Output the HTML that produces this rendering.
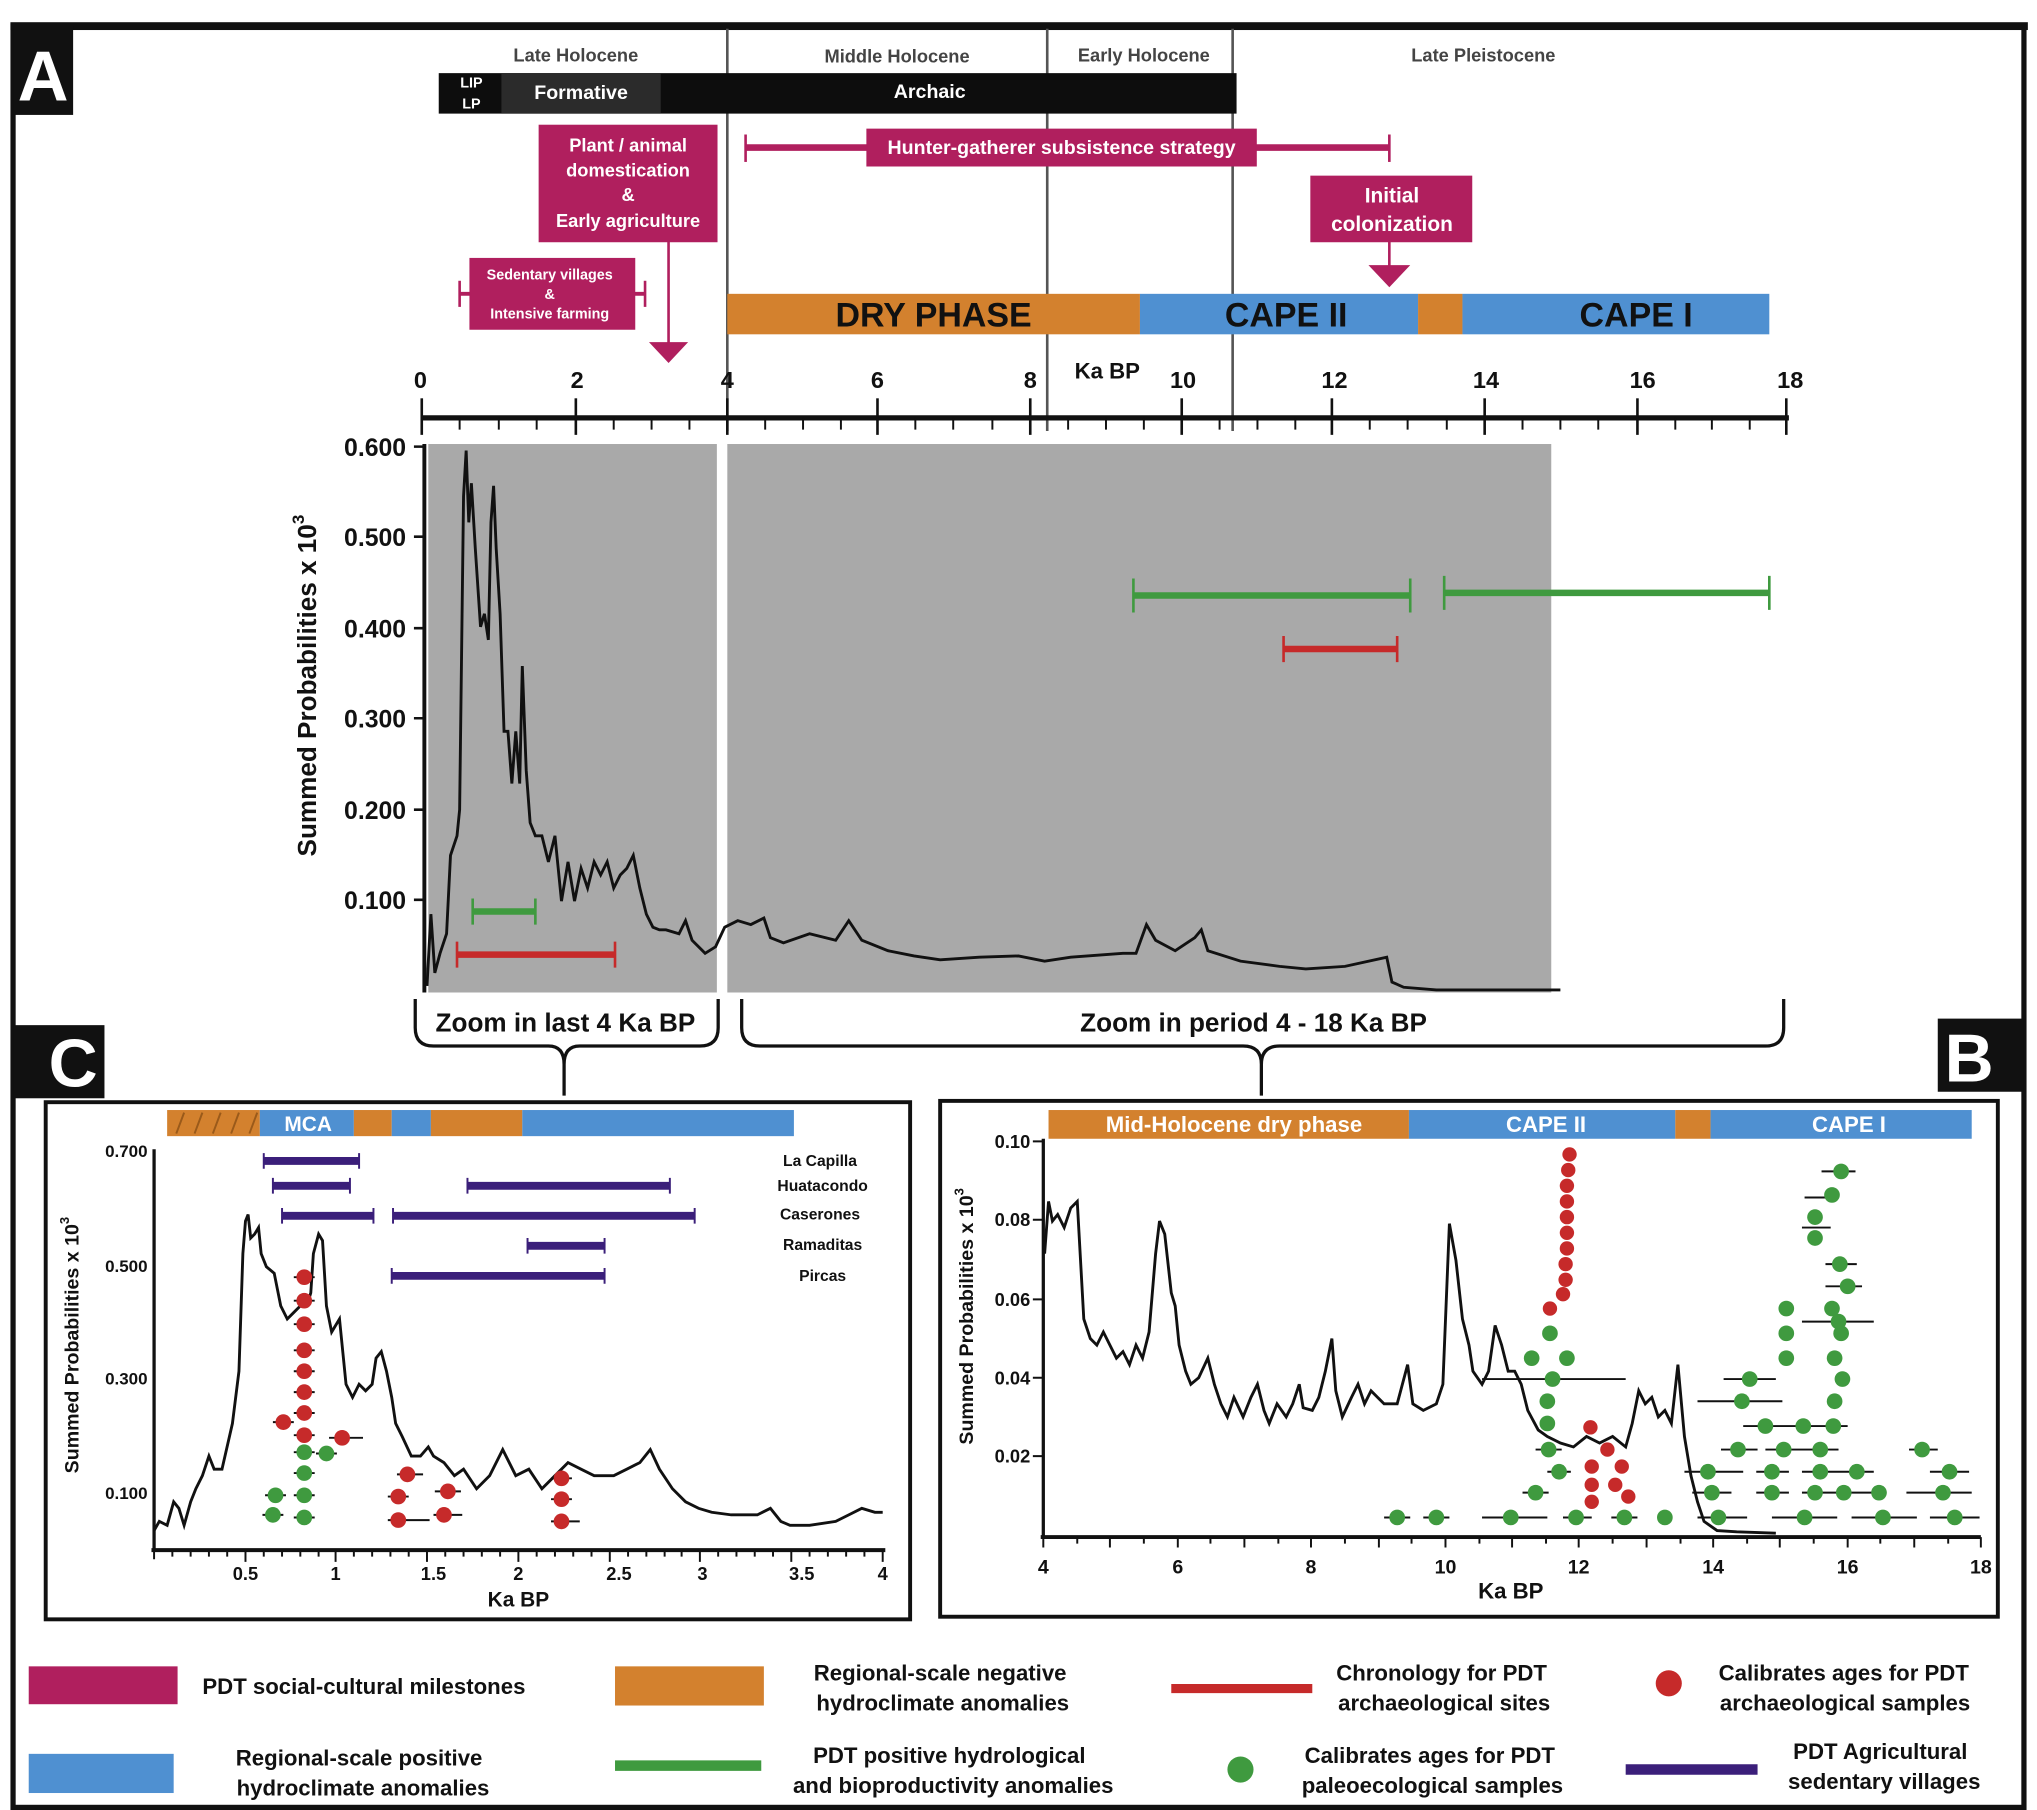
<!DOCTYPE html>
<html><head><meta charset="utf-8"><style>
html,body{margin:0;padding:0;background:#fff}
svg{display:block}
text{font-family:"Liberation Sans",Arial,sans-serif;font-weight:bold}
</style></head><body>
<svg width="2037" height="1810" viewBox="0 0 1560 1386" preserveAspectRatio="none" xmlns="http://www.w3.org/2000/svg">
<rect width="1560" height="1386" fill="#fff"/>
<!-- outer frame -->
<rect x="10" y="20" width="1540" height="1364" fill="none" stroke="#111" stroke-width="4"/>
<rect x="8" y="17" width="1545" height="6" fill="#111"/>
<rect x="10" y="20" width="46" height="68" fill="#111"/>
<text x="33" y="77" font-size="54" fill="#fff" text-anchor="middle">A</text>

<!-- period lines -->
<g stroke="#555" stroke-width="2"><line x1="557" y1="22" x2="557" y2="330"/><line x1="802" y1="22" x2="802" y2="330"/><line x1="944" y1="22" x2="944" y2="330"/></g>
<g font-size="14" fill="#444" font-weight="normal" text-anchor="middle">
<text x="441" y="47" font-weight="normal">Late Holocene</text><text x="687" y="48" font-weight="normal">Middle Holocene</text><text x="876" y="47" font-weight="normal">Early Holocene</text><text x="1136" y="47" font-weight="normal">Late Pleistocene</text></g>
<rect x="336" y="56" width="611" height="31" fill="#0d0d0d"/>
<rect x="384" y="56" width="122" height="31" fill="#2b2b2b"/>
<text x="361" y="67" font-size="11" fill="#fff" text-anchor="middle" font-weight="normal">LIP</text>
<text x="361" y="83" font-size="11" fill="#fff" text-anchor="middle" font-weight="normal">LP</text>
<text x="445" y="76" font-size="15" fill="#fff" text-anchor="middle" font-weight="normal">Formative</text>
<text x="712" y="75" font-size="15" fill="#fff" text-anchor="middle" font-weight="normal">Archaic</text>

<!-- magenta -->
<g fill="#b01f5e" stroke="#b01f5e">
<rect x="413" y="96" width="136" height="89"/>
<line x1="512" y1="185" x2="512" y2="265" stroke-width="2"/>
<polygon points="497,262 527,262 512,278" stroke="none"/>
<line x1="571" y1="113" x2="1064" y2="113" stroke-width="5"/>
<line x1="571" y1="103" x2="571" y2="124" stroke-width="2"/><line x1="1064" y1="103" x2="1064" y2="124" stroke-width="2"/>
<rect x="664" y="99" width="298" height="28"/>
<rect x="1004" y="135" width="123" height="50"/>
<line x1="1064" y1="185" x2="1064" y2="206" stroke-width="2"/>
<polygon points="1048,203 1080,203 1064,220" stroke="none"/>
<line x1="352" y1="225" x2="494" y2="225" stroke-width="3"/>
<line x1="352" y1="215" x2="352" y2="235" stroke-width="2"/><line x1="494" y1="215" x2="494" y2="235" stroke-width="2"/>
<rect x="360" y="198" width="126" height="54"/>
</g>
<g fill="#fff" text-anchor="middle">
<text x="481" y="116" font-size="14">Plant / animal</text>
<text x="481" y="135" font-size="14">domestication</text>
<text x="481" y="154" font-size="14">&amp;</text>
<text x="481" y="174" font-size="14">Early agriculture</text>
<text x="813" y="118" font-size="15">Hunter-gatherer subsistence strategy</text>
<text x="1066" y="155" font-size="16">Initial</text>
<text x="1066" y="177" font-size="16">colonization</text>
<text x="421" y="214" font-size="11">Sedentary villages</text>
<text x="421" y="229" font-size="11">&amp;</text>
<text x="421" y="244" font-size="11">Intensive farming</text>
</g>

<!-- color bar A -->
<rect x="557" y="225" width="316" height="31" fill="#d3812e"/>
<rect x="873" y="225" width="213" height="31" fill="#4f90d1"/>
<rect x="1086" y="225" width="34" height="31" fill="#d3812e"/>
<rect x="1120" y="225" width="235" height="31" fill="#4f90d1"/>
<g font-size="26" fill="#111" text-anchor="middle"><text x="715" y="250">DRY PHASE</text><text x="985" y="250">CAPE II</text><text x="1253" y="250">CAPE I</text></g>

<!-- top axis -->
<g font-size="18" fill="#111" text-anchor="middle">
<text x="322" y="297">0</text><text x="442" y="297">2</text><text x="557" y="297">4</text><text x="672" y="297">6</text><text x="789" y="297">8</text><text x="906" y="297">10</text><text x="1022" y="297">12</text><text x="1138" y="297">14</text><text x="1258" y="297">16</text><text x="1371" y="297">18</text>
<text x="848" y="290" font-size="17">Ka BP</text></g>
<line x1="323" y1="320" x2="1370" y2="320" stroke="#111" stroke-width="4"/>
<g stroke="#111" stroke-width="2">
<line x1="323" y1="305" x2="323" y2="333"/><line x1="441" y1="305" x2="441" y2="333"/><line x1="557" y1="305" x2="557" y2="333"/><line x1="672" y1="305" x2="672" y2="333"/><line x1="789" y1="305" x2="789" y2="333"/><line x1="905" y1="305" x2="905" y2="333"/><line x1="1020" y1="305" x2="1020" y2="333"/><line x1="1137" y1="305" x2="1137" y2="333"/><line x1="1254" y1="305" x2="1254" y2="333"/><line x1="1368" y1="305" x2="1368" y2="333"/>
</g>
<g stroke="#111" stroke-width="1.5">
<path d="M352 320v9M382 320v9M411 320v9M470 320v9M499 320v9M528 320v9M586 320v9M615 320v9M644 320v9M701 320v9M730 320v9M760 320v9M818 320v9M847 320v9M876 320v9M934 320v9M963 320v9M992 320v9M1049 320v9M1078 320v9M1108 320v9M1166 320v9M1195 320v9M1224 320v9M1283 320v9M1311 320v9M1340 320v9"/>
</g>

<!-- plot A -->
<rect x="328" y="340" width="221" height="420" fill="#a9a9a9"/>
<rect x="557" y="340" width="631" height="420" fill="#a9a9a9"/>
<line x1="325" y1="340" x2="325" y2="760" stroke="#111" stroke-width="3"/>
<g stroke="#111" stroke-width="2"><path d="M317 342h8M317 411h8M317 481h8M317 550h8M317 620h8M317 689h8"/></g>
<g font-size="19" fill="#111" text-anchor="end"><text x="311" y="349">0.600</text><text x="311" y="418">0.500</text><text x="311" y="488">0.400</text><text x="311" y="557">0.300</text><text x="311" y="627">0.200</text><text x="311" y="696">0.100</text></g>
<text transform="translate(242,525) rotate(-90)" font-size="20" fill="#111" text-anchor="middle">Summed Probabilities x 10<tspan font-size="13" dy="-9">3</tspan></text>
<polyline fill="none" stroke="#111" stroke-width="2.2" points="327,755 330,700 333,745 337,730 342,715 345,655 350,640 352,620 355,380 357,345 359,400 361,370 364,420 368,480 371,470 374,490 376,400 378,372 380,420 383,470 386,560 389,560 392,600 395,560 398,600 400,510 403,590 406,630 410,640 415,640 420,660 425,640 430,690 435,660 440,690 445,665 450,680 455,660 460,670 465,660 470,680 475,670 480,665 485,655 490,680 495,700 500,710 505,712 510,712 520,715 525,705 530,720 540,730 548,725 555,710 565,705 575,708 585,703 590,718 600,722 620,715 640,720 650,705 660,720 680,728 700,732 720,735 750,733 780,732 800,736 820,733 860,730 870,730 878,708 885,720 900,728 915,718 920,712 925,728 950,736 980,740 1000,742 1030,740 1062,733 1066,752 1075,756 1100,758 1195,758"/>
<g stroke-width="5"><line x1="868" y1="456" x2="1080" y2="456" stroke="#3f9a3f"/><line x1="1106" y1="454" x2="1355" y2="454" stroke="#3f9a3f"/><line x1="983" y1="497" x2="1070" y2="497" stroke="#c62a2a"/><line x1="362" y1="698" x2="410" y2="698" stroke="#3f9a3f"/><line x1="350" y1="731" x2="471" y2="731" stroke="#c62a2a"/></g>
<g stroke-width="2"><path d="M868 443v26M1080 443v26M1106 441v26M1355 441v26M362 688v20M410 688v20" stroke="#3f9a3f"/><path d="M983 487v20M1070 487v20M350 721v20M471 721v20" stroke="#c62a2a"/></g>

<!-- braces -->
<g fill="none" stroke="#111" stroke-width="2.5">
<path d="M318 765 v22 q0 14 14 14 h88 q12 0 12 14 v24 M432 815 q0-14 12-14 h92 q14 0 14-14 v-22"/>
<path d="M568 765 v22 q0 14 14 14 h370 q14 0 14 14 v24 M966 815 q0-14 14-14 h372 q14 0 14-14 v-22"/>
</g>
<text x="433" y="790" font-size="20" fill="#111" text-anchor="middle" font-weight="normal">Zoom in last 4 Ka BP</text>
<text x="960" y="790" font-size="20" fill="#111" text-anchor="middle" font-weight="normal">Zoom in period 4 - 18 Ka BP</text>
<rect x="10" y="785" width="70" height="56" fill="#111"/>
<text x="56" y="832" font-size="52" fill="#fff" text-anchor="middle">C</text>
<rect x="1484" y="780" width="66" height="56" fill="#111"/>
<text x="1508" y="828" font-size="52" fill="#fff" text-anchor="middle">B</text>

<!-- Panel C -->
<rect x="35" y="844" width="662" height="396" fill="#fff" stroke="#111" stroke-width="3"/>
<rect x="128" y="850" width="71" height="20" fill="#d3812e"/>
<g stroke="#9a5a1a" stroke-width="1.5"><path d="M135 868l6-16M149 868l6-16M163 868l6-16M177 868l6-16M191 868l6-16"/></g>
<rect x="199" y="850" width="72" height="20" fill="#4f90d1"/>
<rect x="271" y="850" width="29" height="20" fill="#d3812e"/>
<rect x="300" y="850" width="30" height="20" fill="#4f90d1"/>
<rect x="330" y="850" width="70" height="20" fill="#d3812e"/>
<rect x="400" y="850" width="208" height="20" fill="#4f90d1"/>
<text x="236" y="866" font-size="16" fill="#fff" text-anchor="middle">MCA</text>
<line x1="118" y1="880" x2="118" y2="1187" stroke="#111" stroke-width="2.5"/>
<line x1="116" y1="1187" x2="678" y2="1187" stroke="#111" stroke-width="3"/>
<g stroke="#111" stroke-width="1.5"><path d="M118 1187v7M188 1187v9M257 1187v9M327 1187v9M397 1187v9M467 1187v9M536 1187v9M606 1187v9M676 1187v9M132 1187v5M146 1187v5M160 1187v5M174 1187v5M202 1187v5M216 1187v5M230 1187v5M244 1187v5M271 1187v5M285 1187v5M299 1187v5M313 1187v5M341 1187v5M355 1187v5M369 1187v5M383 1187v5M411 1187v5M425 1187v5M439 1187v5M453 1187v5M481 1187v5M495 1187v5M509 1187v5M522 1187v5M550 1187v5M564 1187v5M578 1187v5M592 1187v5M620 1187v5M634 1187v5M648 1187v5M662 1187v5"/></g>
<g font-size="14" fill="#111" text-anchor="middle"><text x="188" y="1210">0.5</text><text x="257" y="1210">1</text><text x="332" y="1210">1.5</text><text x="397" y="1210">2</text><text x="474" y="1210">2.5</text><text x="538" y="1210">3</text><text x="614" y="1210">3.5</text><text x="676" y="1210">4</text><text x="397" y="1230" font-size="16">Ka BP</text></g>
<g font-size="13" fill="#111" text-anchor="end"><text x="113" y="886">0.700</text><text x="113" y="974">0.500</text><text x="113" y="1060">0.300</text><text x="113" y="1148">0.100</text></g>
<text transform="translate(60,1030) rotate(-90)" font-size="15" fill="#111" text-anchor="middle">Summed Probabilities x 10<tspan font-size="10" dy="-7">3</tspan></text>
<g stroke="#3b1f7a" stroke-width="6"><path d="M202 889h73M209 908h59M358 908h155M216 931h70M301 931h231M404 954h59M300 977h163"/></g>
<g stroke="#3b1f7a" stroke-width="1.5"><path d="M202 883v12M275 883v12M209 902v12M268 902v12M358 902v12M513 902v12M216 925v12M286 925v12M301 925v12M532 925v12M404 948v12M463 948v12M300 971v12M463 971v12"/></g>
<g font-size="12" fill="#111" text-anchor="middle"><text x="628" y="893">La Capilla</text><text x="630" y="912">Huatacondo</text><text x="628" y="934">Caserones</text><text x="630" y="957">Ramaditas</text><text x="630" y="981">Pircas</text></g>
<polyline fill="none" stroke="#111" stroke-width="2.2" points="118,1172 122,1165 128,1168 133,1150 137,1155 141,1168 146,1150 150,1140 155,1130 160,1115 164,1125 170,1125 178,1090 183,1050 186,960 188,935 190,930 192,948 195,945 198,940 200,960 204,970 210,975 215,1000 220,1010 225,1005 230,1000 235,1000 238,990 240,960 244,945 247,950 250,1000 254,1020 257,1015 260,1010 263,1040 265,1060 270,1070 275,1060 280,1065 285,1060 288,1040 292,1035 296,1050 300,1070 303,1090 308,1100 315,1115 322,1115 328,1108 332,1115 340,1120 348,1130 355,1125 365,1140 375,1130 385,1110 395,1130 405,1125 415,1140 425,1130 435,1120 445,1125 455,1130 470,1130 480,1125 490,1120 498,1110 505,1125 515,1140 525,1150 535,1155 545,1158 560,1160 580,1160 590,1155 598,1165 605,1168 620,1168 640,1165 650,1160 660,1155 670,1158 676,1158"/>
<g stroke="#111" stroke-width="1.5"><path d="M225 978h16M225 996h16M225 1014h16M225 1034h16M225 1050h16M225 1066h16M225 1082h16M225 1099h16M209 1089h16M252 1101h26M225 1112h16M242 1113h16M225 1128h16M225 1145h16M203 1145h16M201 1160h16M225 1162h16M304 1129h20M297 1146h16M333 1142h20M297 1164h32M332 1160h22M422 1132h16M422 1148h16M422 1165h22"/></g>
<g fill="#c62a2a"><circle cx="233" cy="978" r="6"/><circle cx="233" cy="996" r="6"/><circle cx="233" cy="1014" r="6"/><circle cx="233" cy="1034" r="6"/><circle cx="233" cy="1050" r="6"/><circle cx="233" cy="1066" r="6"/><circle cx="233" cy="1082" r="6"/><circle cx="233" cy="1099" r="6"/><circle cx="217" cy="1089" r="6"/><circle cx="262" cy="1101" r="6"/><circle cx="312" cy="1129" r="6"/><circle cx="305" cy="1146" r="6"/><circle cx="343" cy="1142" r="6"/><circle cx="305" cy="1164" r="6"/><circle cx="340" cy="1160" r="6"/><circle cx="430" cy="1132" r="6"/><circle cx="430" cy="1148" r="6"/><circle cx="430" cy="1165" r="6"/></g>
<g fill="#3f9a3f"><circle cx="233" cy="1112" r="6"/><circle cx="250" cy="1113" r="6"/><circle cx="233" cy="1128" r="6"/><circle cx="233" cy="1145" r="6"/><circle cx="211" cy="1145" r="6"/><circle cx="209" cy="1160" r="6"/><circle cx="233" cy="1162" r="6"/></g>

<!-- Panel B -->
<rect x="720" y="843" width="810" height="395" fill="#fff" stroke="#111" stroke-width="3"/>
<rect x="803" y="850" width="276" height="22" fill="#d3812e"/>
<rect x="1079" y="850" width="204" height="22" fill="#4f90d1"/>
<rect x="1283" y="850" width="27" height="22" fill="#d3812e"/>
<rect x="1310" y="850" width="200" height="22" fill="#4f90d1"/>
<g font-size="17" fill="#fff" text-anchor="middle"><text x="945" y="867">Mid-Holocene dry phase</text><text x="1184" y="867">CAPE II</text><text x="1416" y="867">CAPE I</text></g>
<line x1="799" y1="872" x2="799" y2="1177" stroke="#111" stroke-width="2.5"/>
<line x1="797" y1="1177" x2="1517" y2="1177" stroke="#111" stroke-width="3"/>
<g stroke="#111" stroke-width="1.5"><path d="M791 874h8M791 934h8M791 995h8M791 1055h8M791 1115h8M799 1177v8M850 1177v8M902 1177v8M953 1177v8M1004 1177v8M1056 1177v8M1107 1177v8M1158 1177v8M1209 1177v8M1261 1177v8M1312 1177v8M1363 1177v8M1415 1177v8M1466 1177v8M1517 1177v8M825 1177v5M876 1177v5M927 1177v5M979 1177v5M1030 1177v5M1081 1177v5M1133 1177v5M1184 1177v5M1235 1177v5M1287 1177v5M1338 1177v5M1389 1177v5M1440 1177v5M1492 1177v5"/></g>
<g font-size="14" fill="#111" text-anchor="end"><text x="789" y="879">0.10</text><text x="789" y="939">0.08</text><text x="789" y="1000">0.06</text><text x="789" y="1060">0.04</text><text x="789" y="1120">0.02</text></g>
<g font-size="15" fill="#111" text-anchor="middle"><text x="799" y="1205">4</text><text x="902" y="1205">6</text><text x="1004" y="1205">8</text><text x="1107" y="1205">10</text><text x="1209" y="1205">12</text><text x="1312" y="1205">14</text><text x="1415" y="1205">16</text><text x="1517" y="1205">18</text><text x="1157" y="1224" font-size="17">Ka BP</text></g>
<text transform="translate(745,1008) rotate(-90)" font-size="15" fill="#111" text-anchor="middle">Summed Probabilities x 10<tspan font-size="10" dy="-7">3</tspan></text>
<polyline fill="none" stroke="#111" stroke-width="2.2" points="800,960 803,920 806,935 810,930 815,940 820,925 825,920 830,1010 835,1025 840,1030 845,1020 850,1030 855,1040 860,1035 865,1045 870,1030 875,1040 880,1020 885,960 888,935 892,945 897,990 900,1000 903,1030 908,1050 912,1060 918,1055 925,1040 930,1060 935,1075 940,1085 945,1070 952,1085 958,1070 963,1060 968,1080 972,1090 978,1075 985,1085 990,1075 995,1060 998,1078 1005,1080 1010,1070 1015,1050 1020,1025 1023,1065 1028,1085 1035,1070 1040,1060 1045,1075 1050,1065 1055,1070 1060,1075 1070,1075 1078,1045 1082,1075 1090,1080 1100,1075 1105,1060 1110,937 1115,965 1120,1010 1125,1030 1128,1050 1135,1060 1140,1050 1145,1015 1150,1030 1155,1050 1160,1050 1165,1060 1170,1080 1178,1095 1185,1100 1195,1105 1205,1108 1215,1100 1225,1105 1235,1100 1245,1108 1250,1090 1255,1065 1260,1075 1265,1070 1270,1085 1275,1080 1280,1090 1285,1045 1290,1100 1295,1130 1300,1150 1305,1165 1315,1172 1330,1173 1360,1174"/>
<g stroke="#111" stroke-width="1.5"><path d="M1135 1056h110M1060 1162h20M1090 1162h20M1135 1162h50M1197 1162h22M1234 1162h20M1300 1162h38M1357 1162h50M1418 1162h50M1478 1162h38M1166 1143h20M1296 1143h30M1345 1143h25M1380 1143h60M1460 1143h50M1185 1127h18M1290 1127h45M1345 1127h25M1380 1127h30M1410 1127h25M1478 1127h30M1176 1110h20M1318 1110h28M1352 1110h30M1380 1110h28M1462 1110h22M1335 1092h35M1370 1092h25M1395 1092h20M1300 1073h65M1320 1056h40M1380 1012h55M1398 985h28M1398 968h24M1380 940h22M1382 917h20M1395 897h26"/></g>
<g fill="#c62a2a"><circle cx="1202" cy="884" r="5.5"/><circle cx="1201" cy="896" r="5.5"/><circle cx="1200" cy="908" r="5.5"/><circle cx="1200" cy="920" r="5.5"/><circle cx="1200" cy="932" r="5.5"/><circle cx="1200" cy="944" r="5.5"/><circle cx="1200" cy="956" r="5.5"/><circle cx="1199" cy="968" r="5.5"/><circle cx="1199" cy="980" r="5.5"/><circle cx="1197" cy="991" r="5.5"/><circle cx="1187" cy="1002" r="5.5"/><circle cx="1218" cy="1093" r="5.5"/><circle cx="1231" cy="1110" r="5.5"/><circle cx="1219" cy="1123" r="5.5"/><circle cx="1242" cy="1123" r="5.5"/><circle cx="1219" cy="1137" r="5.5"/><circle cx="1237" cy="1137" r="5.5"/><circle cx="1219" cy="1150" r="5.5"/><circle cx="1247" cy="1146" r="5.5"/></g>
<g fill="#3f9a3f"><circle cx="1187" cy="1021" r="6"/><circle cx="1173" cy="1040" r="6"/><circle cx="1200" cy="1040" r="6"/><circle cx="1189" cy="1056" r="6"/><circle cx="1185" cy="1073" r="6"/><circle cx="1185" cy="1090" r="6"/><circle cx="1186" cy="1110" r="6"/><circle cx="1194" cy="1127" r="6"/><circle cx="1176" cy="1143" r="6"/><circle cx="1070" cy="1162" r="6"/><circle cx="1100" cy="1162" r="6"/><circle cx="1157" cy="1162" r="6"/><circle cx="1207" cy="1162" r="6"/><circle cx="1244" cy="1162" r="6"/><circle cx="1275" cy="1162" r="6"/><circle cx="1316" cy="1162" r="6"/><circle cx="1382" cy="1162" r="6"/><circle cx="1442" cy="1162" r="6"/><circle cx="1497" cy="1162" r="6"/><circle cx="1311" cy="1143" r="6"/><circle cx="1357" cy="1143" r="6"/><circle cx="1390" cy="1143" r="6"/><circle cx="1412" cy="1143" r="6"/><circle cx="1439" cy="1143" r="6"/><circle cx="1488" cy="1143" r="6"/><circle cx="1308" cy="1127" r="6"/><circle cx="1357" cy="1127" r="6"/><circle cx="1394" cy="1127" r="6"/><circle cx="1422" cy="1127" r="6"/><circle cx="1493" cy="1127" r="6"/><circle cx="1331" cy="1110" r="6"/><circle cx="1366" cy="1110" r="6"/><circle cx="1394" cy="1110" r="6"/><circle cx="1472" cy="1110" r="6"/><circle cx="1352" cy="1092" r="6"/><circle cx="1381" cy="1092" r="6"/><circle cx="1404" cy="1092" r="6"/><circle cx="1334" cy="1073" r="6"/><circle cx="1405" cy="1073" r="6"/><circle cx="1340" cy="1056" r="6"/><circle cx="1411" cy="1056" r="6"/><circle cx="1368" cy="1040" r="6"/><circle cx="1405" cy="1040" r="6"/><circle cx="1368" cy="1021" r="6"/><circle cx="1410" cy="1021" r="6"/><circle cx="1368" cy="1002" r="6"/><circle cx="1403" cy="1002" r="6"/><circle cx="1408" cy="1012" r="6"/><circle cx="1415" cy="985" r="6"/><circle cx="1409" cy="968" r="6"/><circle cx="1390" cy="948" r="6"/><circle cx="1390" cy="932" r="6"/><circle cx="1403" cy="915" r="6"/><circle cx="1410" cy="897" r="6"/></g>

<!-- legend -->
<rect x="22" y="1276" width="114" height="29" fill="#b01f5e"/>
<text x="155" y="1297" font-size="17" fill="#111">PDT social-cultural milestones</text>
<rect x="22" y="1343" width="111" height="30" fill="#4f90d1"/>
<g font-size="17" fill="#111" text-anchor="middle">
<text x="275" y="1352">Regional-scale positive</text><text x="278" y="1375">hydroclimate anomalies</text>
<text x="720" y="1287">Regional-scale negative</text><text x="722" y="1310">hydroclimate anomalies</text>
<text x="727" y="1350">PDT positive hydrological</text><text x="730" y="1373">and bioproductivity anomalies</text>
<text x="1104" y="1287">Chronology for PDT</text><text x="1106" y="1310">archaeological sites</text>
<text x="1095" y="1350">Calibrates ages for PDT</text><text x="1097" y="1373">paleoecological samples</text>
<text x="1412" y="1287">Calibrates ages for PDT</text><text x="1413" y="1310">archaeological samples</text>
<text x="1440" y="1347">PDT Agricultural</text><text x="1443" y="1370">sedentary villages</text>
</g>
<rect x="471" y="1276" width="114" height="30" fill="#d3812e"/>
<line x1="471" y1="1352" x2="583" y2="1352" stroke="#3f9a3f" stroke-width="8"/>
<line x1="897" y1="1293" x2="1005" y2="1293" stroke="#c62a2a" stroke-width="7"/>
<circle cx="950" cy="1355" r="10" fill="#3f9a3f"/>
<circle cx="1278" cy="1289" r="10" fill="#c62a2a"/>
<line x1="1245" y1="1355" x2="1346" y2="1355" stroke="#3b1f7a" stroke-width="8"/>
</svg>
</body></html>
